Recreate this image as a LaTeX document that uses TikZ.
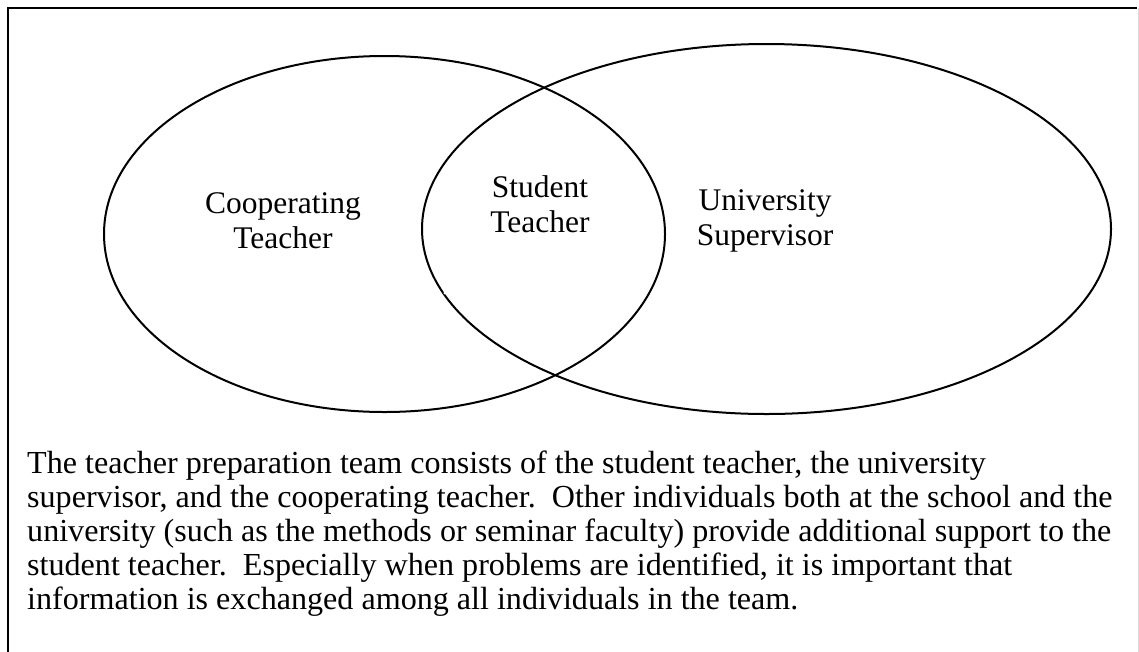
\documentclass[tikz,border=0pt]{standalone}
\usepackage{fontspec}
\setmainfont{Liberation Serif}
\begin{document}
\begin{tikzpicture}[x=1pt,y=-1pt,
  ring/.style={draw=black, line width=2pt},
  label/.style={align=center, font=\fontsize{31.5}{35}\selectfont, inner sep=0pt},
  caption/.style={align=left, font=\fontsize{32.1}{34}\selectfont, inner sep=0pt}]
  \useasboundingbox (0,0) rectangle (1139,651);
  % frame, open at the bottom
  \draw[black, line width=2.2pt] (8,660) -- (8,8) -- (1137,8);
  \draw[black!15, line width=1pt] (1138.5,8) -- (1138.5,660);
  % the two circles of the team
  \draw[ring] (384.5,234) ellipse [x radius=280.5, y radius=178];
  \draw[ring] (766.5,229) ellipse [x radius=344.5, y radius=185];
  \fill[white] (445,293) circle [radius=1.6];
  % labels (base anchor sits on the last line)
  \node[label, anchor=base] (coop) at (283,248) {Cooperating\\Teacher};
  \node[label, anchor=base] (stud) at (540,232) {Student\\Teacher};
  \node[label, anchor=base] (univ) at (765,245) {University\\Supervisor};
  % explanation
  \node[caption, anchor=base west] (text) at (27,609) {The teacher preparation team consists of the student teacher, the university\\
supervisor, and the cooperating teacher.\ \ Other individuals both at the school and the\\
university (such as the methods or seminar faculty) provide additional support to the\\
student teacher.\ \ Especially when problems are identified, it is important that\\
information is exchanged among all individuals in the team.};
\end{tikzpicture}
\end{document}
